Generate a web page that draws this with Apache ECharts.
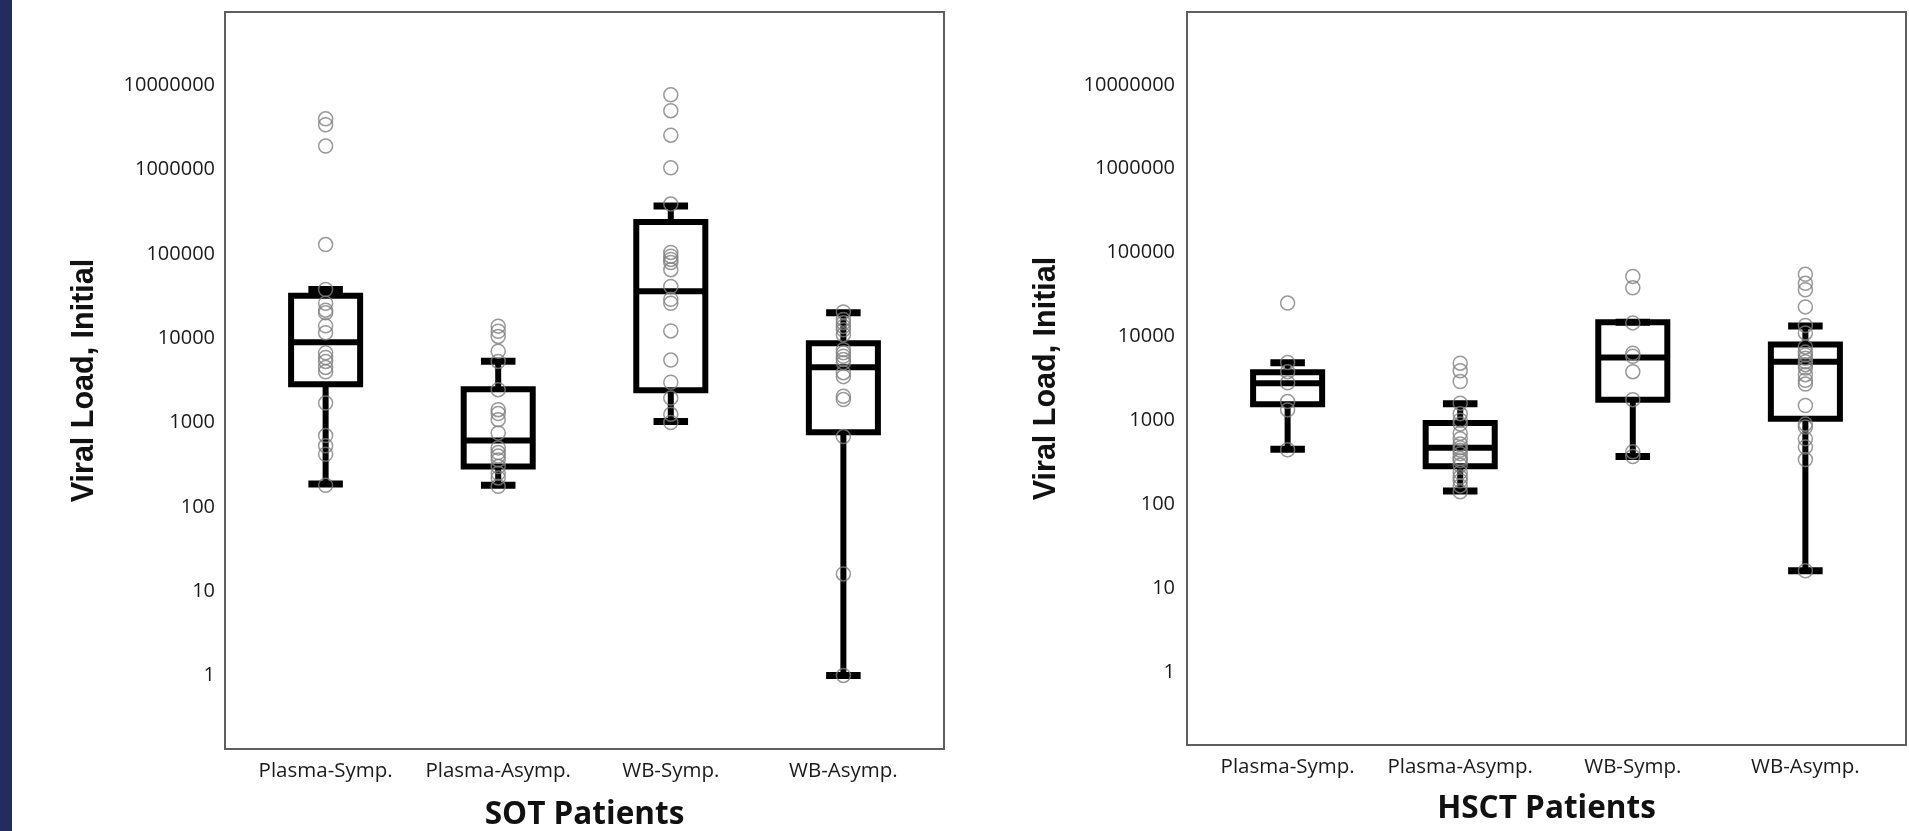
<!DOCTYPE html>
<html><head><meta charset="utf-8">
<script src="https://cdn.jsdelivr.net/npm/echarts@6/dist/echarts.min.js"></script>
<style>
html,body{margin:0;padding:0;background:#fff;overflow:hidden;}
#chart{position:absolute;left:0;top:0;width:1909px;height:831px;}
#strip{position:absolute;left:0;top:0;width:12px;height:831px;background:#212d5f;z-index:2;}
</style></head><body>
<div id="chart"></div><div id="strip"></div>
<script>
const categories = ['Plasma-Symp.', 'Plasma-Asymp.', 'WB-Symp.', 'WB-Asymp.'];
const yTickLabels = ['1', '10', '100', '1000', '10000', '100000', '1000000', '10000000'];
const panelTitles = ['SOT Patients', 'HSCT Patients'];
const yAxisTitle = 'Viral Load, Initial';

// box summaries: [lower whisker, Q1, median, Q3, upper whisker]
const sotBoxes = [
  [187, 2840, 8960, 31800, 37800],
  [180, 300, 610, 2480, 5330],
  [1030, 2420, 36000, 239000, 370000],
  [1, 766, 4520, 8720, 20000]
];
const hsctBoxes = [
  [450, 1550, 2760, 3730, 4860],
  [143, 283, 470, 930, 1570],
  [370, 1760, 5600, 14800, 14800],
  [16, 1040, 5000, 8000, 13300]
];

// individual patient values
const sotPlasmaSymp = [4000000, 3400000, 1900000, 129000, 37800, 26000, 21500, 20000, 14000, 11600, 6700, 5900, 5300, 4500, 4000, 1700, 700, 530, 420, 180];
const sotPlasmaAsymp = [13900, 12100, 10500, 7000, 5300, 2450, 1420, 1280, 1080, 750, 500, 440, 400, 360, 300, 250, 220, 175];
const sotWBSymp = [7700000, 5000000, 2560000, 1050000, 390000, 104000, 94000, 86000, 79000, 65000, 41000, 29000, 26000, 12200, 5500, 3000, 1950, 1250, 1000];
const sotWBAsymp = [20500, 16700, 15200, 13800, 12600, 11000, 7300, 6700, 6100, 5600, 5100, 3900, 3500, 2050, 1870, 680, 16, 1];

const hsctPlasmaSymp = [25000, 4900, 3800, 2800, 1670, 1330, 445];
const hsctPlasmaAsymp = [4800, 3900, 2900, 1600, 1200, 1000, 900, 700, 600, 520, 470, 440, 400, 350, 330, 290, 240, 210, 190, 165, 140];
const hsctWBSymp = [52000, 38000, 14500, 6300, 5800, 3800, 1760, 420, 370];
const hsctWBAsymp = [55000, 43000, 36000, 22500, 13500, 11000, 7500, 6500, 6000, 5500, 5000, 4600, 4200, 3500, 3000, 2700, 1500, 900, 830, 600, 480, 340, 16];

const sotPoints = [sotPlasmaSymp, sotPlasmaAsymp, sotWBSymp, sotWBAsymp];
const hsctPoints = [hsctPlasmaSymp, hsctPlasmaAsymp, hsctWBSymp, hsctWBAsymp];

const boxData = boxes => boxes.map((b, i) => [i].concat(b));
const pointData = groups => groups.flatMap((arr, i) => arr.map(v => [i, v]));

function renderBox(params, api) {
  const i = api.value(0);
  const mn = api.value(1), q1 = api.value(2), md = api.value(3), q3 = api.value(4), mx = api.value(5);
  const c = (dx, v) => api.coord([i + dx, v]);
  const line = (a, b, w) => ({type: 'line', shape: {x1: a[0], y1: a[1], x2: b[0], y2: b[1]}, style: {stroke: '#000', lineWidth: w, lineCap: 'butt'}});
  const tl = c(-0.2, q3), br = c(0.2, q1);
  return {type: 'group', children: [
    line(c(0, mx), c(0, q3), 6),
    line(c(0, q1), c(0, mn), 6),
    line(c(-0.1, mx), c(0.1, mx), 7),
    line(c(-0.1, mn), c(0.1, mn), 7),
    {type: 'rect', shape: {x: tl[0], y: tl[1], width: br[0] - tl[0], height: br[1] - tl[1]},
     style: {fill: 'none', stroke: '#000', lineWidth: 6, lineJoin: 'miter'}},
    line(c(-0.2, md), c(0.2, md), 6)
  ]};
}

const labelFont = 'Open Sans';
function xAxisCfg(gi, title, margin, nameGap) {
  return {
    type: 'value', gridIndex: gi, min: -0.583, max: 3.583, minInterval: 1, maxInterval: 1,
    axisLine: {show: false}, axisTick: {show: false}, splitLine: {show: false},
    axisLabel: {
      show: true, margin: margin, fontSize: 20.5, color: '#1a1a1a', fontFamily: labelFont,
      showMinLabel: false, showMaxLabel: false,
      formatter: v => (Math.abs(v - Math.round(v)) < 1e-6 && categories[Math.round(v)]) ? categories[Math.round(v)] : ''
    },
    name: title, nameLocation: 'middle', nameGap: nameGap,
    nameTextStyle: {fontFamily: labelFont, fontWeight: 'bold', fontSize: 31.5, color: '#111'}
  };
}
function yAxisCfg(gi, margin) {
  return {
    type: 'log', logBase: 10, gridIndex: gi, min: 0.134, max: 7.4e7,
    axisLine: {show: false}, axisTick: {show: false}, splitLine: {show: false},
    axisLabel: {
      margin: margin, fontSize: 20, color: '#1a1a1a', fontFamily: labelFont,
      showMinLabel: false, showMaxLabel: false,
      formatter: v => { const s = String(Math.round(v)); return (yTickLabels.indexOf(s) >= 0 && Math.abs(v - Math.round(v)) < 1e-6 * Math.max(1, v)) ? s : ''; }
    },
    name: yAxisTitle, nameLocation: 'middle', nameRotate: 90, nameGap: 125,
    nameTextStyle: {fontFamily: 'Liberation Sans', fontWeight: 'bold', fontSize: 30.5, color: '#111'}
  };
}

const chart = echarts.init(document.getElementById('chart'), null, {renderer: 'canvas'});
chart.setOption({
  backgroundColor: '#ffffff',
  animation: false,
  grid: [
    {left: 225, top: 12, width: 719, height: 737, show: true, borderColor: '#5f5f5f', borderWidth: 2, backgroundColor: 'transparent', containLabel: false, outerBoundsMode: 'none'},
    {left: 1187, top: 12, width: 719, height: 733, show: true, borderColor: '#5f5f5f', borderWidth: 2, backgroundColor: 'transparent', containLabel: false, outerBoundsMode: 'none'}
  ],
  xAxis: [xAxisCfg(0, panelTitles[0], 12, 50), xAxisCfg(1, panelTitles[1], 12, 48)],
  yAxis: [yAxisCfg(0, 10), yAxisCfg(1, 12)],
  series: [
    {type: 'custom', xAxisIndex: 0, yAxisIndex: 0, renderItem: renderBox, encode: {x: 0, y: [1, 2, 3, 4, 5]}, data: boxData(sotBoxes), z: 2},
    {type: 'custom', xAxisIndex: 1, yAxisIndex: 1, renderItem: renderBox, encode: {x: 0, y: [1, 2, 3, 4, 5]}, data: boxData(hsctBoxes), z: 2},
    {type: 'scatter', xAxisIndex: 0, yAxisIndex: 0, symbol: 'circle', symbolSize: 14, z: 3,
     itemStyle: {color: 'rgba(0,0,0,0)', borderColor: '#808080', borderWidth: 1.5}, data: pointData(sotPoints)},
    {type: 'scatter', xAxisIndex: 1, yAxisIndex: 1, symbol: 'circle', symbolSize: 14, z: 3,
     itemStyle: {color: 'rgba(0,0,0,0)', borderColor: '#808080', borderWidth: 1.5}, data: pointData(hsctPoints)}
  ]
});
</script>
</body></html>
